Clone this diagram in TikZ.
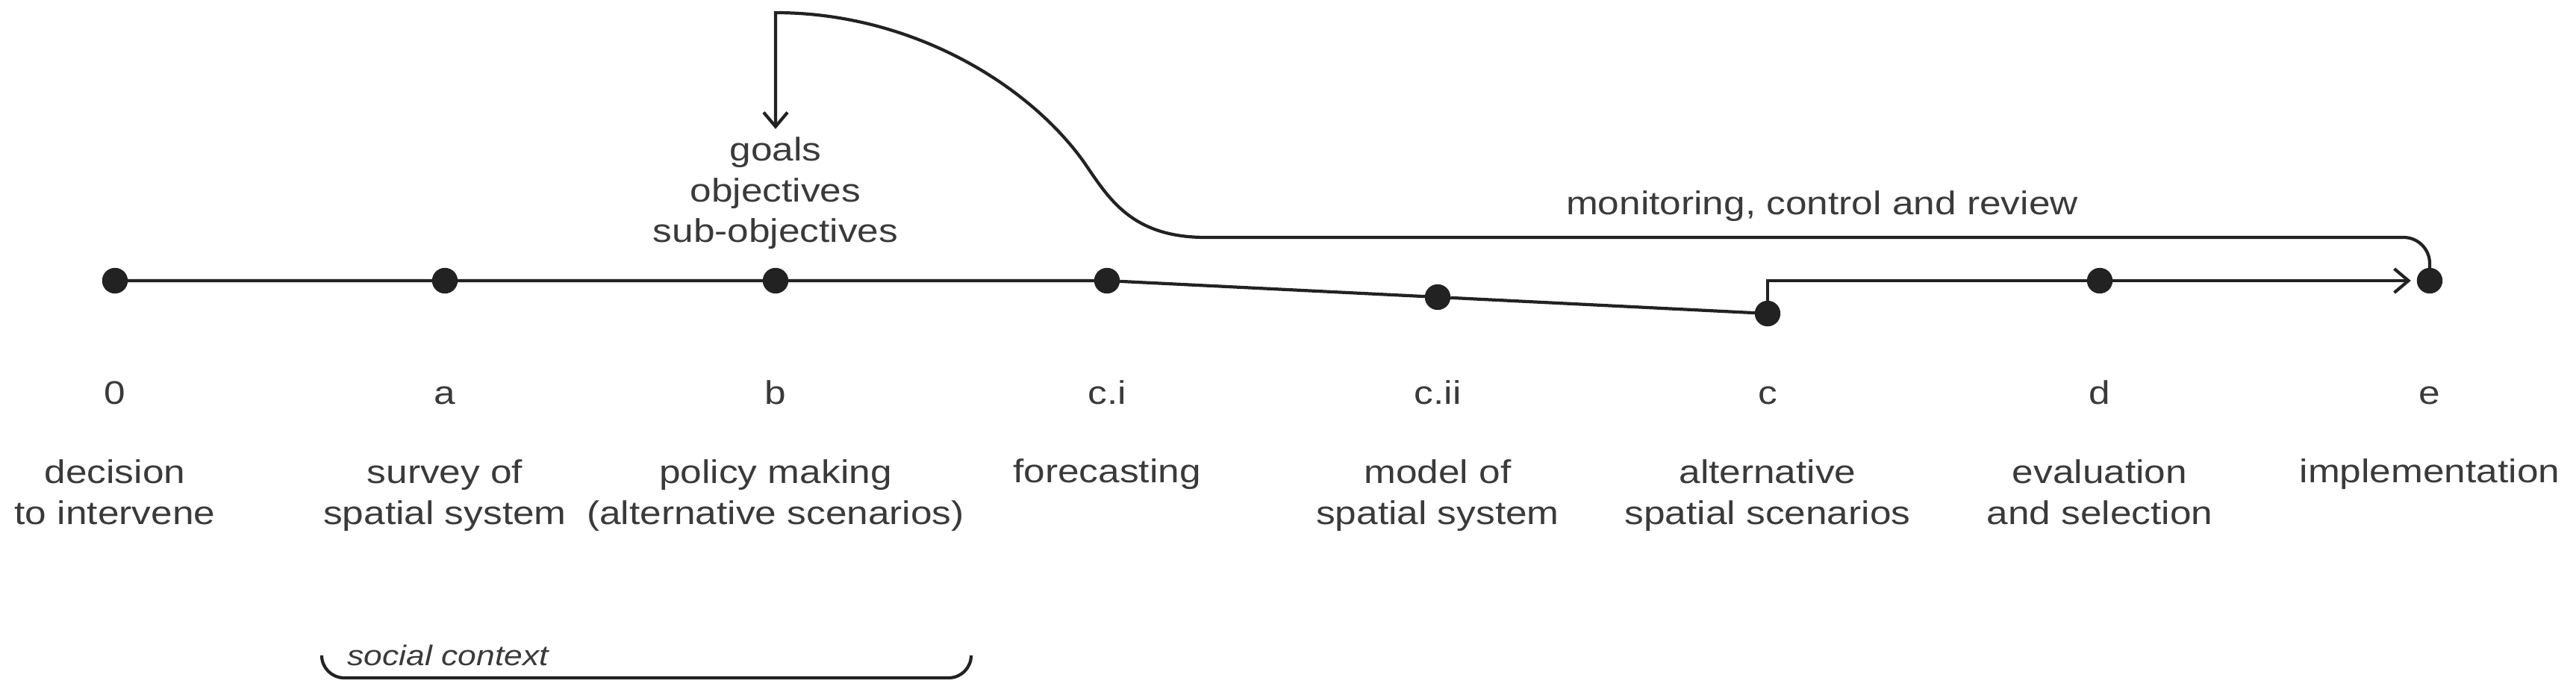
\documentclass[tikz,border=0pt]{standalone}
\usepackage{fontspec}
\setmainfont{Liberation Sans}[FakeStretch=1.17]
\usetikzlibrary{arrows.meta}
\usepackage{xcolor}
\definecolor{inkline}{HTML}{222222}
\definecolor{inktext}{HTML}{3A3A3A}

\begin{document}
\begin{tikzpicture}[
	dot/.style={draw=inkline, circle, fill=inkline, minimum size=0.33cm, inner sep=0pt},
	tag/.style={anchor=base, text=inktext, font=\fontsize{12.5}{15.6}\selectfont, align=center, inner sep=0pt},
	line/.style={draw=inkline, line width=1.2pt},
	barb/.style={-{Straight Barb[length=0.19cm, width=0.32cm]}}
	]
	\useasboundingbox (0,0) rectangle (34.51,9.35);
	\node (n0) [dot] at (1.54,5.59) {};
	\node (na) [dot] at (5.96,5.59) {};
	\node (nb) [dot] at (10.39,5.59) {};
	\node (nci) [dot] at (14.83,5.59) {};
	\node (ncii) [dot] at (19.26,5.37) {};
	\node (nc) [dot] at (23.68,5.15) {};
	\node (nd) [dot] at (28.13,5.59) {};
	\node (ne) [dot] at (32.55,5.59) {};
	\node (l0) [tag] at (1.54,3.93) {0};
	\node (la) [tag] at (5.96,3.93) {a};
	\node (lb) [tag] at (10.39,3.93) {b};
	\node (lci) [tag] at (14.83,3.93) {c.i};
	\node (lcii) [tag] at (19.26,3.93) {c.ii};
	\node (lc) [tag] at (23.68,3.93) {c};
	\node (ld) [tag] at (28.13,3.93) {d};
	\node (le) [tag] at (32.55,3.93) {e};
	\node (t0) [tag] at (1.54,2.33) {decision\\to intervene};
	\node (ta) [tag] at (5.96,2.33) {survey of\\spatial system};
	\node (tb) [tag] at (10.39,2.33) {policy making\\(alternative scenarios)};
	\node (tci) [tag] at (14.83,2.88) {forecasting};
	\node (tcii) [tag] at (19.26,2.33) {model of\\spatial system};
	\node (tc) [tag] at (23.68,2.33) {alternative\\spatial scenarios};
	\node (td) [tag] at (28.13,2.33) {evaluation\\and selection};
	\node (te) [tag] at (32.55,2.88) {implementation};
	\node (goals) [tag, inner ysep=0.1cm] at (10.39,6.10) {goals\\objectives\\sub-objectives};
	\node (review) [tag] at (24.41,6.47) {monitoring, control and review};
	\node (social) [tag, anchor=base west, font=\itshape\fontsize{10.8}{13}\selectfont] at (4.65,0.43) {social context};
	\draw[line] (n0) -- (na) -- (nb) -- (nci) -- (ncii) -- (nc);
	\draw[line] (nc.north) |- (nd);
	\draw[line, barb, shorten >=0.08cm] (nd) -- (ne);
	\draw[line, barb, rounded corners=0.35cm] (ne.north) |- (16.50,6.17) [sharp corners]
		.. controls (15.15,6.17) and (14.85,6.70) .. (14.52,7.18)
		.. controls (13.77,8.23) and (12.20,9.18) .. (10.39,9.18) -- (goals.north);
	\draw[line, rounded corners=0.3cm] (4.31,0.55) -- (4.31,0.27) -- (13.01,0.27) -- (13.01,0.55);
\end{tikzpicture}
\end{document}
